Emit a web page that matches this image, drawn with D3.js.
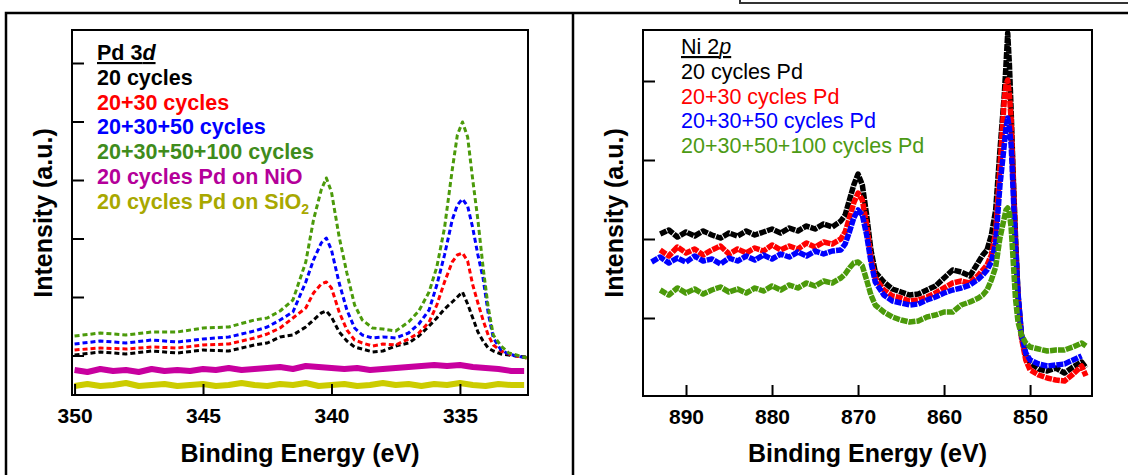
<!DOCTYPE html>
<html>
<head>
<meta charset="utf-8">
<script src="https://cdn.jsdelivr.net/npm/d3@7"></script>
<style>
  body { margin: 0; background: #fff; }
  svg { display: block; font-family: "Liberation Sans", Arial, sans-serif; }
  .axis path { display: none; }
  .axis line { stroke: #000; stroke-width: 2; }
  .axis text { font-size: 21px; font-weight: bold; fill: #000; }
</style>
</head>
<body>
<svg id="chart" width="1128" height="475"></svg>
<script>
// Pd 3d panel (intensity in arbitrary counts)
const pdEnergy = [350, 349, 348, 347, 346, 345, 344, 343, 342.5, 342, 341.5, 341, 340.7, 340.4, 340.2, 340, 339.7, 339.4, 339.1, 338.8,
    338.4, 338, 337.5, 337, 336.6, 336.2, 335.9, 335.6, 335.3, 335.1, 334.9, 334.7, 334.5, 334.3, 334.1, 333.9, 333.7, 333.4, 333.1, 332.8, 332.4]
const pd20 = [59, 62, 60, 63, 61, 64, 63, 69, 71, 77, 79, 87, 94, 101, 103, 97, 82, 73, 67, 65,
    62, 63, 68, 71, 78, 88, 96, 105, 112, 117, 122, 110, 96, 82, 73, 66, 63, 60, 59, 58, 57]
const pd2030 = [64, 66, 65, 67, 66, 69, 70, 76, 80, 86, 96, 106, 121, 130, 132, 126, 102, 84, 74, 71,
    68, 70, 69, 75, 81, 92, 109, 132, 152, 159, 161, 153, 129, 111, 94, 79, 69, 63, 60, 58, 56]
const pd203050 = [70, 73, 71, 74, 72, 75, 77, 83, 87, 94, 102, 132, 154, 171, 176, 164, 131, 104, 86, 79,
    76, 77, 76, 81, 90, 104, 129, 159, 194, 209, 215, 208, 186, 159, 136, 101, 76, 64, 60, 58, 56]
const pd100 = [78, 81, 79, 82, 82, 86, 87, 94, 96, 103, 114, 152, 194, 224, 236, 222, 177, 141, 109, 94,
    86, 85, 83, 92, 103, 122, 147, 186, 244, 279, 292, 277, 234, 194, 147, 107, 79, 68, 61, 59, 56]
const bgEnergy = [350, 349.5, 349, 348.5, 348, 347.5, 347, 346.5, 346, 345.5, 345, 344.5, 344, 343.5, 343, 342.5, 342, 341.5,
    341, 340.5, 340, 339.5, 339, 338.5, 338, 337.5, 337, 336.5, 336, 335.5, 335, 334.5, 334, 333.5, 333, 332.5]
const pdNiO = [44, 42, 45, 43, 44, 42, 45, 43, 44, 43, 45, 44, 46, 44, 45, 46, 47, 45,
    48, 47, 46, 45, 46, 44, 45, 46, 47, 48, 49, 48, 49, 47, 46, 45, 43, 43]
const pdSiO2 = [28, 30, 28, 29, 31, 28, 29, 30, 28, 29, 30, 28, 29, 31, 29, 28, 30, 29,
    31, 28, 29, 30, 28, 29, 31, 29, 30, 28, 30, 29, 31, 29, 28, 30, 29, 29]
const pdTicks = [350, 345, 340, 335]
const pdIntTicks = [58.5, 117, 175.5, 234, 292.5, 351]
const pdLegend = ['20 cycles', '20+30 cycles', '20+30+50 cycles', '20+30+50+100 cycles', '20 cycles Pd on NiO', '20 cycles Pd on SiO']

// Ni 2p panel
const niEnergy = [894, 893, 892, 891, 890, 889, 888, 887, 886, 885, 884, 883, 882, 881, 880, 879, 878, 877, 876, 875, 874, 873, 872,
    871.5, 871, 870.5, 870, 869.5, 869, 868.5, 868, 867, 866, 865, 864, 863, 862, 861, 860, 859, 858, 857, 856,
    855.5, 855, 854.5, 854, 853.5, 853, 852.8, 852.6, 852.4, 852.2, 852, 851.7, 851.4, 851, 850.5, 850,
    849, 848, 847, 846, 845, 844, 843.5]
const ni20 = [null, 163, 167, 160, 165, 161, 166, 162, 159, 164, 161, 166, 162, 165, 168, 164, 169, 166, 171, 168, 173, 170, 176,
    182, 197, 212, 223, 212, 182, 147, 125, 115, 108, 105, 102, 103, 107, 111, 119, 127, 125, 121, 135,
    142, 147, 162, 187, 247, 302, 332, 364, 332, 287, 232, 162, 102, 62, 42, 34,
    28, 26, 29, 24, 30, 35, 29]
const ni2030 = [null, 147, 141, 150, 144, 148, 142, 147, 151, 143, 148, 144, 149, 146, 152, 147, 151, 148, 154, 150, 155, 153, 158,
    165, 179, 194, 204, 197, 172, 139, 119, 107, 101, 99, 96, 97, 100, 104, 109, 114, 116, 114, 122,
    127, 132, 142, 165, 230, 297, 312, 317, 302, 277, 227, 157, 99, 59, 37, 27,
    22, 19, 17, 16, 23, 31, 21]
const ni203050 = [135, 140, 134, 139, 135, 141, 136, 138, 133, 139, 136, 141, 137, 142, 138, 143, 140, 145, 141, 146, 143, 146, 147,
    153, 165, 179, 187, 182, 162, 135, 115, 102, 96, 94, 92, 93, 97, 100, 104, 107, 109, 112, 118,
    122, 127, 135, 154, 212, 252, 269, 279, 269, 252, 212, 152, 104, 62, 44, 37,
    33, 31, 32, 33, 37, 41, null]
const ni100 = [null, 107, 102, 109, 104, 108, 103, 107, 110, 105, 108, 104, 109, 106, 111, 107, 112, 109, 114, 111, 116, 114, 119,
    123, 129, 134, 135, 131, 117, 102, 92, 85, 80, 77, 75, 76, 80, 82, 85, 85, 92, 95, 99,
    102, 107, 117, 130, 159, 179, 187, 189, 184, 169, 142, 99, 75, 62, 54, 50,
    48, 46, 47, 47, 50, 54, 51]
const niTicks = [890, 880, 870, 860, 850]
const niIntTicks = [79, 158, 237, 316]
const niLegend = ['20 cycles Pd', '20+30 cycles Pd', '20+30+50 cycles Pd', '20+30+50+100 cycles Pd']

const svg = d3.select('#chart')

function drawPanel(p) {
    const x = d3.scaleLinear().domain(p.xDomain).range([p.left, p.right])
    const y = d3.scaleLinear().domain(p.yDomain).range([p.bottom, p.top])

    svg.append('clipPath').attr('id', 'clip-' + p.id)
        .append('rect')
        .attr('x', p.left).attr('y', p.top)
        .attr('width', p.right - p.left).attr('height', p.bottom - p.top)

    const g = svg.append('g').attr('clip-path', `url(#clip-${p.id})`)
    p.series.forEach(s => {
        const line = d3.line()
            .defined((d, i) => s.values[i] != null)
            .x((d, i) => x(s.energy[i]))
            .y((d, i) => y(s.values[i]))
        g.append('path')
            .datum(s.values)
            .attr('fill', 'none')
            .attr('stroke', s.color)
            .attr('stroke-width', s.width)
            .attr('stroke-dasharray', s.dash)
            .attr('stroke-linejoin', 'round')
            .attr('d', line)
    })

    svg.append('g')
        .attr('class', 'axis')
        .attr('transform', `translate(0,${p.bottom})`)
        .call(d3.axisBottom(x).tickValues(p.xTicks).tickSize(-11).tickPadding(13).tickFormat(d3.format('d')))
    svg.append('g')
        .attr('class', 'axis')
        .attr('transform', `translate(${p.left},0)`)
        .call(d3.axisLeft(y).tickValues(p.yTicks).tickSize(-12).tickFormat(''))

    svg.append('rect')
        .attr('x', p.left).attr('y', p.top)
        .attr('width', p.right - p.left).attr('height', p.bottom - p.top)
        .attr('fill', 'none').attr('stroke', '#000').attr('stroke-width', 2)

    svg.append('text')
        .attr('x', (p.left + p.right) / 2).attr('y', 462)
        .attr('text-anchor', 'middle')
        .style('font-size', '25px').style('font-weight', 'bold')
        .text('Binding Energy (eV)')
    svg.append('text')
        .attr('transform', `translate(${p.ylabelX},213) rotate(-90)`)
        .attr('text-anchor', 'middle')
        .style('font-size', '25px').style('font-weight', 'bold')
        .text('Intensity (a.u.)')

    const title = svg.append('text')
        .attr('x', p.legendX).attr('y', p.legendY)
        .attr('text-decoration', 'underline')
        .style('font-size', p.fontSize).style('font-weight', p.weight)
    title.append('tspan').text(p.title[0])
    title.append('tspan').style('font-style', 'italic').text(p.title[1])

    p.legend.forEach((label, i) => {
        const t = svg.append('text')
            .attr('x', p.legendX).attr('y', p.legendY + 24.8 * (i + 1))
            .attr('fill', p.legendColors[i])
            .style('font-size', p.fontSize).style('font-weight', p.weight)
            .text(label)
        if (label.endsWith('SiO'))
            t.append('tspan').attr('dy', 5).style('font-size', '14px').text('2')
    })
}

// outer frames
svg.append('path')
    .attr('d', 'M6,475V13H1128M573,13V475')
    .attr('fill', 'none').attr('stroke', '#000').attr('stroke-width', 2.5)
svg.append('path')
    .attr('d', 'M740,0V3H1128')
    .attr('fill', 'none').attr('stroke', '#333').attr('stroke-width', 2)

drawPanel({
    id: 'pd', left: 72, right: 528, top: 30, bottom: 395,
    xDomain: [350.1, 332.35], yDomain: [19, 384],
    xTicks: pdTicks, yTicks: pdIntTicks, ylabelX: 52,
    title: ['Pd 3', 'd'], weight: 'bold', fontSize: '21.5px', legendX: 97, legendY: 60,
    legend: pdLegend,
    legendColors: ['#000000', '#ff0000', '#0000ff', '#3f8c1c', '#b4009a', '#a8a800'],
    series: [
        {energy: bgEnergy, values: pdSiO2, color: '#cccc00', width: 6, dash: null},
        {energy: bgEnergy, values: pdNiO, color: '#c8009f', width: 6, dash: null},
        {energy: pdEnergy, values: pd20, color: '#000000', width: 3, dash: '5,3'},
        {energy: pdEnergy, values: pd2030, color: '#ff0000', width: 3, dash: '5,3'},
        {energy: pdEnergy, values: pd203050, color: '#0000ff', width: 3, dash: '5,3'},
        {energy: pdEnergy, values: pd100, color: '#4b9a0a', width: 3, dash: '5,3'}
    ]
})

drawPanel({
    id: 'ni', left: 643, right: 1092, top: 30, bottom: 396,
    xDomain: [895, 842.8], yDomain: [1, 367],
    xTicks: niTicks, yTicks: niIntTicks, ylabelX: 623,
    title: ['Ni 2', 'p'], weight: 'normal', fontSize: '21.5px', legendX: 681, legendY: 54,
    legend: niLegend,
    legendColors: ['#000000', '#ff0000', '#0000ff', '#4c9a14'],
    series: [
        {energy: niEnergy, values: ni20, color: '#000000', width: 5.5, dash: '7,1'},
        {energy: niEnergy, values: ni2030, color: '#ff0000', width: 5.5, dash: '7,1'},
        {energy: niEnergy, values: ni203050, color: '#0000ff', width: 5.5, dash: '7,1'},
        {energy: niEnergy, values: ni100, color: '#4b9a0a', width: 5.5, dash: '7,1'}
    ]
})
</script>
</body>
</html>
